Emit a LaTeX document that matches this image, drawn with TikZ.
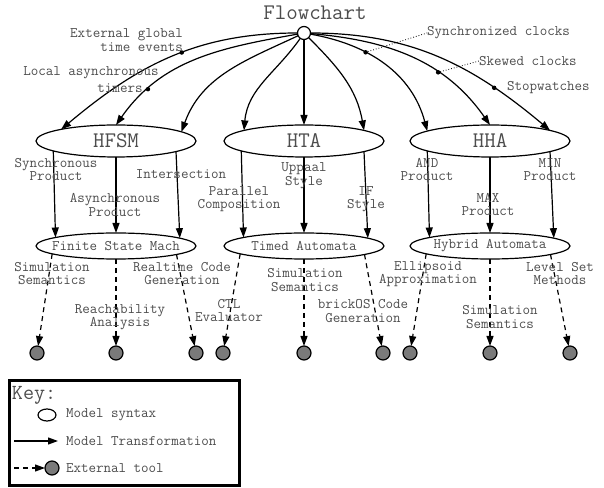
\documentclass[tikz,border=0pt]{standalone}
\usetikzlibrary{arrows.meta,shapes.geometric}

\definecolor{txt}{HTML}{4D4D4D}
\definecolor{toolgray}{HTML}{7A7A7A}

\begin{document}
\begin{tikzpicture}[x=1pt,y=1pt,
  every node/.style={inner sep=0pt, outer sep=0pt, text=txt},
  big/.style={font=\ttfamily\fontsize{22.3}{23}\selectfont},
  model/.style={ellipse, draw, line width=1.2pt, minimum width=160pt, minimum height=32pt, big},
  sem/.style={ellipse, draw, line width=1.2pt, minimum width=160pt, minimum height=26pt,
    inner xsep=-15pt, font=\ttfamily\fontsize{14.6}{14}\selectfont},
  tool/.style={circle, draw, line width=1.2pt, fill=toolgray, minimum size=14pt},
  root/.style={circle, draw, line width=1.2pt, fill=white, minimum size=13pt},
  evt/.style={circle, fill=black, minimum size=4.5pt},
  lbl/.style={align=center, font=\ttfamily\fontsize{14.6}{13.5}\selectfont},
  trans/.style={line width=1.2pt, -{Triangle[length=10pt,width=7pt]}},
  tooledge/.style={trans, dash pattern=on 5pt off 4pt},
  pointer/.style={dotted, line width=0.8pt},
]
\useasboundingbox (0,0) rectangle (604,487);

% title and root
\node[big] (title) at (315,474) {Flowchart};
\node[root] (src) at (304,454) {};

% model syntaxes
\node[model] (hfsm) at (116,346) {HFSM};
\node[model] (hta)  at (304,346) {HTA};
\node[model] (hha)  at (490,346) {HHA};

% semantic models
\node[sem] (fsm) at (116,241) {Finite State Mach};
\node[sem] (ta)  at (304,241) {Timed Automata};
\node[sem] (ha)  at (490,241) {Hybrid Automata};

% external tools
\foreach \n/\x in {t1/37,t2/116,t3/196,t4/223,t5/304,t6/383,t7/410,t8/490,t9/570}
  \node[tool] (\n) at (\x,134) {};

% time models from the root
\draw[trans] (src) to[out=180,in=40] node[evt,pos=0.45] (e1) {} (hfsm.168.5);
\draw[trans] (src) to[out=190,in=55] node[evt,pos=0.78] (e2) {} (hfsm.north);
\draw[trans] (src) to[out=205,in=70] (hfsm.8.5);
\draw[trans] (src) to[out=235,in=85] (hta.170);
\draw[trans] (src) -- (hta.north);
\draw[trans] (src) to[out=-45,in=100] (hta.10);
\draw[trans] (src) to[out=-10,in=105] node[evt,pos=0.35] (e7) {} (hha.171);
\draw[trans] (src) to[out=-5,in=125] node[evt,pos=0.65] (e8) {} (hha.north);
\draw[trans] (src) to[out=0,in=140] node[evt,pos=0.75] (e9) {} (hha.10);

\node[lbl, anchor=east, align=right, font=\ttfamily\fontsize{14.6}{14.5}\selectfont] (l1) at (183,447) {External global\\time events};
\node[lbl] (l2a) at (91,414) {Local asynchronous};
\node[lbl] (l2b) at (120,399) {timers};
\node[lbl, anchor=west] (l7) at (427,454) {Synchronized clocks};
\node[lbl, anchor=west] (l8) at (479,426) {Skewed clocks};
\node[lbl, anchor=west] (l9) at (507,399) {Stopwatches};
\draw[pointer] (e7) -- (l7.west);
\draw[pointer] (e8) -- (l8.west);

% model transformations
\draw[trans] (hfsm.189.6) -- (fsm.172.2);
\draw[trans] (hfsm.south) -- (fsm.north);
\draw[trans] (hfsm.350.7) -- (fsm.7.6);
\draw[trans] (hta.189.6) -- (ta.172.2);
\draw[trans] (hta.south) -- (ta.north);
\draw[trans] (hta.350.7) -- (ta.7.6);
\draw[trans] (hha.189.6) -- (ha.172.2);
\draw[trans] (hha.south) -- (ha.north);
\draw[trans] (hha.350.7) -- (ha.7.6);

\node[lbl] (m1) at (56,317.5) {Synchronous\\Product};
\node[lbl] (m2) at (115,282) {Asynchronous\\Product};
\node[lbl] (m3) at (181,313) {Intersection};
\node[lbl] (m4) at (239,288) {Parallel\\Composition};
\node[lbl] (m5) at (304,311.5) {Uppaal\\Style};
\node[lbl] (m6) at (366,288) {IF\\Style};
\node[lbl] (m7) at (427,317.5) {AND\\Product};
\node[lbl] (m8) at (488,282.5) {MAX\\Product};
\node[lbl] (m9) at (550,317.5) {MIN\\Product};

% tool connections
\draw[tooledge] (fsm.187.9) -- (t1);
\draw[tooledge] (fsm.south) -- (t2);
\draw[tooledge] (fsm.352.4) -- (t3);
\draw[tooledge] (ta.187.9) -- (t4);
\draw[tooledge] (ta.south) -- (t5);
\draw[tooledge] (ta.352.4) -- (t6);
\draw[tooledge] (ha.187.9) -- (t7);
\draw[tooledge] (ha.south) -- (t8);
\draw[tooledge] (ha.352.4) -- (t9);

\node[lbl] (s1) at (52,213.5) {Simulation\\Semantics};
\node[lbl] (s2) at (120,170) {Reachability\\Analysis};
\node[lbl] (s3) at (182,213.5) {Realtime Code\\Generation};
\node[lbl] (s4) at (229,176.5) {CTL\\Evaluator};
\node[lbl] (s5) at (305,207) {Simulation\\Semantics};
\node[lbl] (s6) at (363,176) {brickOS Code\\Generation};
\node[lbl] (s7) at (428,213) {Ellipsoid\\Approximation};
\node[lbl] (s8) at (500,170) {Simulation\\Semantics};
\node[lbl] (s9) at (560,213.5) {Level Set\\Methods};

% key
\node[draw, line width=3pt, minimum width=230pt, minimum height=105pt] (keybox) at (124,54.5) {};
\node[anchor=west, font=\ttfamily\fontsize{21.5}{22}\selectfont] (keytitle) at (12,92) {Key:};
\node[ellipse, draw, line width=1.2pt, minimum width=18pt, minimum height=12pt] (kell) at (47,72) {};
\node[lbl, anchor=west] (k1) at (66,72) {Model syntax};
\coordinate (ka) at (14,46);
\coordinate (kb) at (58,46);
\draw[trans] (ka) -- (kb);
\node[lbl, anchor=west] (k2) at (66,46) {Model Transformation};
\coordinate (kc) at (14,19);
\node[tool] (kt) at (52,19) {};
\draw[tooledge] (kc) -- (kt);
\node[lbl, anchor=west] (k3) at (66,19) {External tool};
\end{tikzpicture}
\end{document}
